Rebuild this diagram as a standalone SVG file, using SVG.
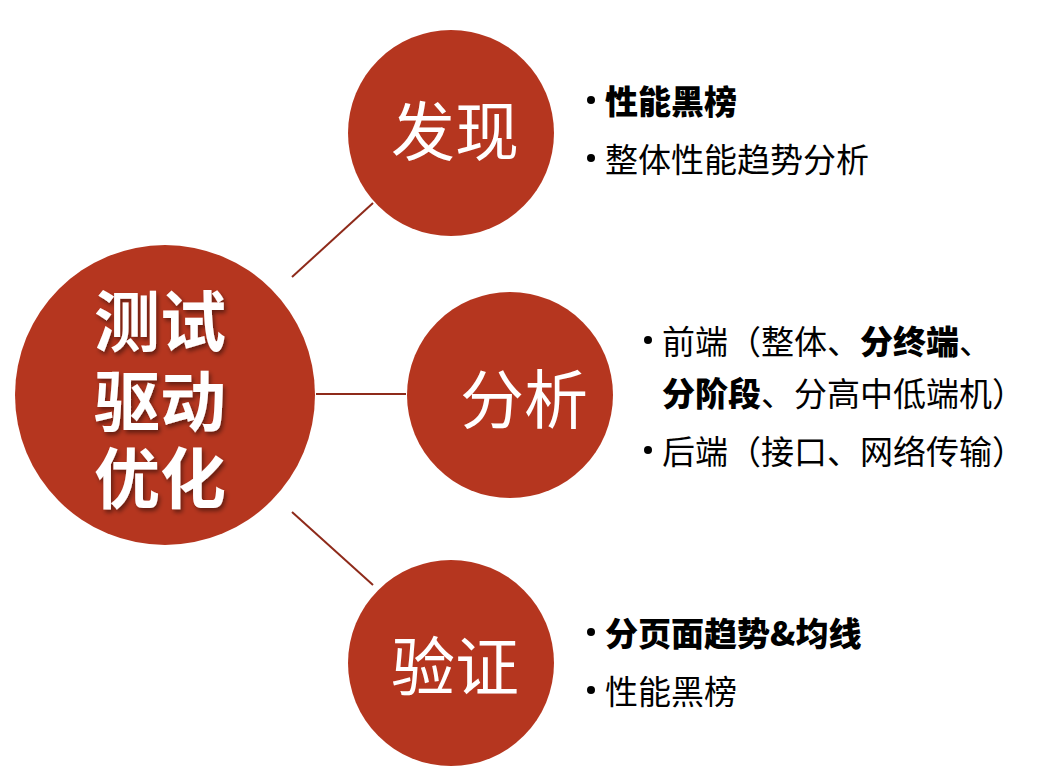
<svg xmlns="http://www.w3.org/2000/svg" width="1048" height="780" viewBox="0 0 1048 780">
<defs>
<style>
.node{fill:#B5361F;}
.conn{stroke:#8E2A1A;stroke-width:2;fill:none;}
.ctext{fill:#fff;font-family:"Noto Sans CJK SC",sans-serif;font-size:64px;dominant-baseline:central;text-anchor:middle;}
.big{fill:#fff;font-family:"Noto Sans CJK SC",sans-serif;font-size:66px;font-weight:bold;dominant-baseline:central;text-anchor:middle;}
.item{fill:#000;font-family:"Noto Sans CJK SC",sans-serif;font-size:33px;dominant-baseline:central;}
.bul{fill:#000;}
.b{font-weight:900;}
</style>
<filter id="sh" x="-10%" y="-10%" width="130%" height="130%">
<feDropShadow dx="2" dy="3" stdDeviation="2" flood-color="#000" flood-opacity="0.45"/>
</filter>
</defs>
<rect width="1048" height="780" fill="#fff"/>
<g id="connectors">
<line class="conn" x1="292" y1="277" x2="373" y2="203"/>
<line class="conn" x1="316" y1="394" x2="406" y2="394"/>
<line class="conn" x1="292" y1="512" x2="373" y2="585"/>
</g>
<g id="center">
<circle class="node" cx="165" cy="395" r="150"/>
<text class="big" filter="url(#sh)"><tspan x="160" y="317">测试</tspan><tspan x="160" y="397">驱动</tspan><tspan x="160" y="474">优化</tspan></text>
</g>
<g id="discover">
<circle class="node" cx="451" cy="133" r="103"/>
<text class="ctext" x="455" y="127">发现</text>
</g>
<g id="analyze">
<circle class="node" cx="510" cy="395" r="103"/>
<text class="ctext" x="524" y="395">分析</text>
</g>
<g id="verify">
<circle class="node" cx="451" cy="663" r="103"/>
<text class="ctext" x="455" y="662">验证</text>
</g>
<g id="discover-items">
<circle class="bul" cx="591" cy="100" r="4"/>
<text class="item" x="605" y="100"><tspan class="b">性能黑榜</tspan></text>
<circle class="bul" cx="591" cy="158" r="4"/>
<text class="item" x="605" y="158">整体性能趋势分析</text>
</g>
<g id="analyze-items">
<circle class="bul" cx="648" cy="340" r="4"/>
<text class="item" x="662" y="340">前端（整体、<tspan class="b">分终端</tspan>、</text>
<text class="item" x="662" y="392"><tspan class="b">分阶段</tspan>、分高中低端机）</text>
<circle class="bul" cx="648" cy="450" r="4"/>
<text class="item" x="662" y="450">后端（接口、网络传输）</text>
</g>
<g id="verify-items">
<circle class="bul" cx="591" cy="632" r="4"/>
<text class="item" x="605" y="632"><tspan class="b">分页面趋势&amp;均线</tspan></text>
<circle class="bul" cx="591" cy="690" r="4"/>
<text class="item" x="605" y="690">性能黑榜</text>
</g>
</svg>
